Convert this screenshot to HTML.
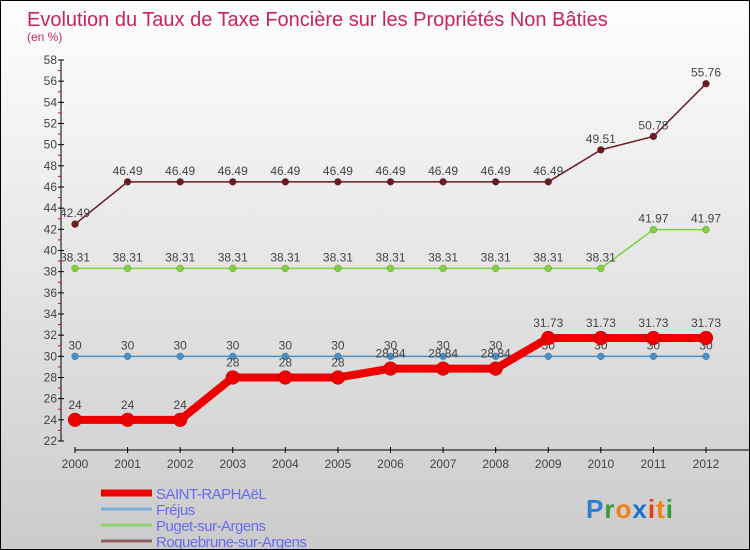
<!DOCTYPE html>
<html><head><meta charset="utf-8">
<style>
html,body{margin:0;padding:0}
body{width:750px;height:550px;overflow:hidden;font-family:"Liberation Sans",sans-serif}
#wrap{position:relative;width:748px;height:548px;border:1px solid #000;background:linear-gradient(#fefefe,#cbcbcb)}
</style></head><body>
<div id="wrap">
<svg id="chart" width="748" height="548" style="position:absolute;left:0;top:0"></svg>
</div>
<script>
const years=[2000,2001,2002,2003,2004,2005,2006,2007,2008,2009,2010,2011,2012];
const saint=[24,24,24,28,28,28,28.84,28.84,28.84,31.73,31.73,31.73,31.73];
const frejus=[30,30,30,30,30,30,30,30,30,30,30,30,30];
const puget=[38.31,38.31,38.31,38.31,38.31,38.31,38.31,38.31,38.31,38.31,38.31,41.97,41.97];
const roque=[42.49,46.49,46.49,46.49,46.49,46.49,46.49,46.49,46.49,46.49,49.51,50.78,55.76];
const yTicks=[22,24,26,28,30,32,34,36,38,40,42,44,46,48,50,52,54,56,58];
const legendNames=["SAINT-RAPHAëL","Fréjus","Puget-sur-Argens","Roquebrune-sur-Argens"];

const NS="http://www.w3.org/2000/svg";
const svg=document.getElementById('chart');
function X(i){return 74+i*(705-74)/12;}
function Y(v){return 440-(v-22)*(440-59)/36;}
function el(t,a,p){const e=document.createElementNS(NS,t);for(const k in a)e.setAttribute(k,a[k]);(p||svg).appendChild(e);return e;}

let t=el('text',{x:26,y:25,'font-size':20,fill:'#c8245a'});t.textContent="Evolution du Taux de Taxe Foncière sur les Propriétés Non Bâties";

t=el('text',{x:26,y:40,'font-size':12,fill:'#c8245a'});t.textContent="(en %)";


let ax=el('line',{x1:60,y1:Y(58),x2:60,y2:Y(22),stroke:'#000','stroke-width':1});

yTicks.forEach(v=>{
 el('line',{x1:57,y1:Y(v),x2:63,y2:Y(v),stroke:'#000'});
 if(v<58) el('line',{x1:57,y1:Y(v+1),x2:60,y2:Y(v+1),stroke:'#e00'});
 const tt=el('text',{x:56,y:Y(v)+4,'font-size':12,fill:'#444','text-anchor':'end'});tt.textContent=v;
 
});
ax=el('line',{x1:74,y1:449,x2:748,y2:449,stroke:'#000'});

years.forEach((y,i)=>{
 el('line',{x1:X(i),y1:446,x2:X(i),y2:452,stroke:'#000'});
 const tt=el('text',{x:X(i),y:467,'font-size':12,fill:'#444','text-anchor':'middle'});tt.textContent=y;
 
});

function series(vals,color,lw,r,name,labelOff){
 const g=el('g',{});
 
 el('polyline',{points:vals.map((v,i)=>X(i)+','+Y(v)).join(' '),fill:'none',stroke:color,'stroke-width':lw,'stroke-linejoin':'round'},g);
 vals.forEach((v,i)=>{
  const c=el('circle',{cx:X(i),cy:Y(v),r:r,fill:color,stroke:'rgba(0,0,0,0.3)','stroke-width':0.5},g);
  
  const tt=el('text',{x:X(i),y:Y(v)-labelOff,'font-size':12,fill:'#444','text-anchor':'middle'},g);tt.textContent=v;
  
 });
}
series(roque,'#6b1a22',1.5,3.5,'series-roquebrune',7);
series(puget,'#80d040',1.5,3.5,'series-puget',7);
series(frejus,'#4a90c8',1.5,3.5,'series-frejus',7);
series(saint,'#ee0000',8,7,'series-saint-raphael',11);

const lc=['#ee0000','#7ab0d8','#90d070','#906060'],lw=[7,3,3,3];
legendNames.forEach((n,i)=>{
 const y=492+i*16;
 const g=el('g',{});
 
 el('line',{x1:100,y1:y,x2:151,y2:y,stroke:lc[i],'stroke-width':lw[i]},g);
 const tt=el('text',{x:155,y:y+6,'font-size':15,fill:'#6a6aee','letter-spacing':'-0.5'},g);tt.textContent=n;
});
const logo=el('text',{x:585,y:517,'font-size':26,'font-weight':'bold','letter-spacing':'1'});

[['P','#2a7fd0'],['r','#3a9a3a'],['o','#f08010'],['x','#1a70d0'],['i','#e04010'],['t','#f08010'],['i','#3a9a3a']].forEach(([c,f])=>{const s=el('tspan',{fill:f},logo);s.textContent=c;});
</script>
</body></html>
